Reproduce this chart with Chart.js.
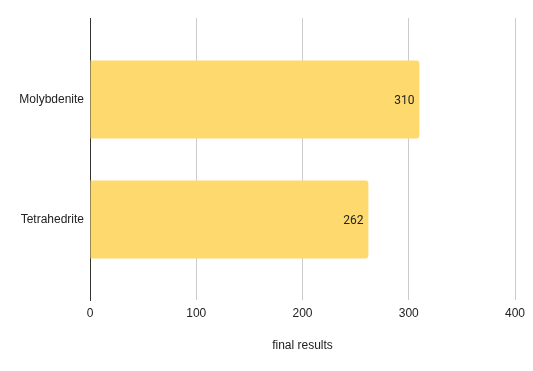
<!DOCTYPE html>
<html>
<head>
<meta charset="utf-8">
<script src="https://cdn.jsdelivr.net/npm/chart.js@4/dist/chart.umd.min.js"></script>
<style>
html,body{margin:0;padding:0;background:#fff;}
#wrap{width:533px;height:371px;}
</style>
</head>
<body>
<div id="wrap"><canvas id="c" width="533" height="371"></canvas></div>
<script>
const categories = ['Molybdenite', 'Tetrahedrite'];
const values = [310, 262];
const xTicks = [0, 100, 200, 300, 400];
const axisTitle = 'final results';

const points = values.map((v, i) => ({ x: v, y: i + 1 }));

const valueLabels = {
  id: 'valueLabels',
  afterDatasetsDraw(chart) {
    const ctx = chart.ctx;
    const meta = chart.getDatasetMeta(0);
    ctx.save();
    ctx.font = '12px Roboto';
    ctx.fillStyle = '#222';
    ctx.textAlign = 'right';
    ctx.textBaseline = 'middle';
    meta.data.forEach((el, i) => {
      ctx.fillText(String(values[i]), el.x - 5, el.y + 1);
    });
    ctx.restore();
  }
};

new Chart(document.getElementById('c'), {
  type: 'bar',
  data: {
    datasets: [{
      data: points,
      backgroundColor: '#fdd96e',
      borderWidth: 0,
      borderRadius: { topRight: 3, bottomRight: 3 },
      borderSkipped: 'start',
      barPercentage: 0.65,
      categoryPercentage: 1
    }]
  },
  options: {
    indexAxis: 'y',
    responsive: false,
    animation: false,
    layout: { padding: { top: 18, right: 18, left: 0, bottom: 0 } },
    plugins: { legend: { display: false }, tooltip: { enabled: false } },
    scales: {
      x: {
        type: 'linear',
        min: 0,
        max: 400,
        afterBuildTicks(s) { s.ticks = xTicks.map(v => ({ value: v })); },
        afterFit(s) { s.height = 71; },
        grid: { color: '#cccccc', drawTicks: false },
        border: { display: false },
        ticks: { padding: 6, color: '#222', font: { family: 'Liberation Sans', size: 12 } },
        title: {
          display: true,
          text: axisTitle,
          color: '#222',
          font: { family: 'Liberation Sans', size: 12 },
          padding: { top: 0, bottom: 18 }
        }
      },
      y: {
        type: 'linear',
        reverse: true,
        offset: false,
        min: 0.32,
        max: 2.67,
        afterBuildTicks(s) { s.ticks = categories.map((c, i) => ({ value: i + 1 })); },
        afterFit(s) { s.width = 90; },
        grid: { display: false, drawTicks: false },
        border: { display: true, color: '#333', width: 1 },
        ticks: {
          padding: 6,
          color: '#222',
          font: { family: 'Liberation Sans', size: 12 },
          callback: (v) => categories[v - 1] || ''
        }
      }
    }
  },
  plugins: [valueLabels]
});
</script>
</body>
</html>
